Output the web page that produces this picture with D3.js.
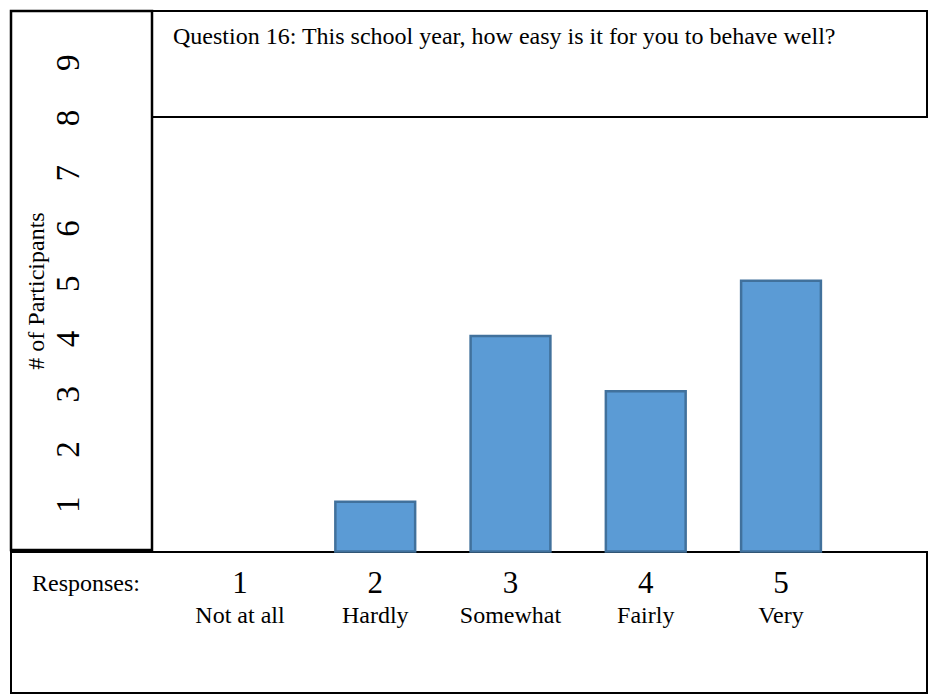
<!DOCTYPE html>
<html lang="en">
<head>
<meta charset="UTF-8">
<title>Question 16</title>
<style>
  body { margin: 0; background: #fff; }
  text { font-family: "Liberation Serif", "Times New Roman", serif; fill: #000; }
  .box { fill: none; stroke: #000; stroke-width: 2px; }
  .bar { fill: #5B9BD5; stroke: #41719C; stroke-width: 2.5px; }
</style>
</head>
<body>
<script src="https://d3js.org/d3.v7.min.js"></script>
<script>
  // data
  let categories = ['1', '2', '3', '4', '5'];
  let catLabels = ['Not at all', 'Hardly', 'Somewhat', 'Fairly', 'Very'];
  let counts = [0, 1, 4, 3, 5];
  let yTicks = [1, 2, 3, 4, 5, 6, 7, 8, 9];
  let title = 'Question 16: This school year, how easy is it for you to behave well?';

  let W = 932, H = 698;
  let s = d3.select('body').append('svg')
    .attr('width', W)
    .attr('height', H);

  // frame layout
  let L = 11, R = 927, T = 11, B = 693;
  let colR = 152, titleB = 117, baseY = 551.5;

  // scales
  let x = d3.scalePoint().domain(categories).range([240, 781]);
  let bw = x.step() * 0.59;
  let y = d3.scaleLinear().domain([0, 9]).range([557, 59.75]);

  // boxes
  s.append('rect').attr('class', 'box')
    .attr('x', L).attr('y', T).attr('width', colR - L).attr('height', baseY - 1.5 - T)
    .style('stroke-width', '2.5px');
  s.append('rect').attr('class', 'box')
    .attr('x', colR).attr('y', T).attr('width', R - colR).attr('height', titleB - T);
  s.append('rect').attr('class', 'box')
    .attr('x', L).attr('y', baseY + 0.5).attr('width', R - L).attr('height', B - baseY - 0.5);

  // bars
  s.selectAll('.bar')
    .data(categories.map((c, i) => ({ c: c, v: counts[i] })).filter(d => d.v > 0))
    .enter().append('rect')
    .attr('class', 'bar')
    .attr('x', d => x(d.c) - bw / 2)
    .attr('y', d => y(d.v))
    .attr('width', bw)
    .attr('height', d => baseY - y(d.v));

  // title
  s.append('text')
    .attr('x', 173).attr('y', 44)
    .style('font-size', '24px')
    .text(title);

  // y tick labels (rotated)
  s.selectAll('.ytick')
    .data(yTicks)
    .enter().append('text')
    .attr('class', 'ytick')
    .attr('transform', d => `translate(79,${y(d) + 3}) rotate(-90)`)
    .attr('text-anchor', 'middle')
    .style('font-size', '33px')
    .text(d => d);

  // y title
  s.append('text')
    .attr('transform', 'translate(44,291) rotate(-90)')
    .attr('text-anchor', 'middle')
    .style('font-size', '24px')
    .text('# of Participants');

  // response row
  s.append('text')
    .attr('x', 32).attr('y', 591)
    .style('font-size', '24px')
    .text('Responses:');

  s.selectAll('.cnum')
    .data(categories)
    .enter().append('text')
    .attr('class', 'cnum')
    .attr('x', d => x(d))
    .attr('y', 593)
    .attr('text-anchor', 'middle')
    .style('font-size', '31px')
    .text(d => d);

  s.selectAll('.clbl')
    .data(categories)
    .enter().append('text')
    .attr('class', 'clbl')
    .attr('x', d => x(d))
    .attr('y', 623)
    .attr('text-anchor', 'middle')
    .style('font-size', '24px')
    .text((d, i) => catLabels[i]);
</script>
</body>
</html>
